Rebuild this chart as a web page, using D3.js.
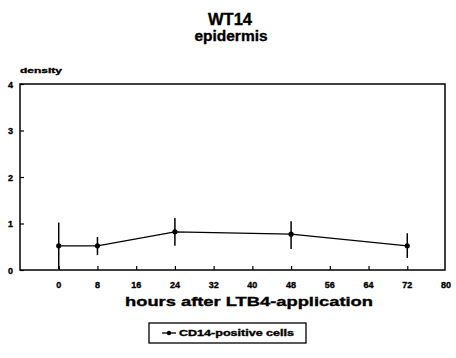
<!DOCTYPE html>
<html><head><meta charset="utf-8">
<script src="https://cdn.jsdelivr.net/npm/d3@7"></script>
<style>body{margin:0;background:#fff}svg{display:block}text{font-family:"Liberation Sans",Arial,sans-serif;font-weight:bold;fill:#000;stroke:#000;stroke-width:0.35px}</style>
</head><body>
<script>
const hours = [0, 8, 24, 48, 72];
const density = [0.52, 0.52, 0.82, 0.77, 0.52];
const errUpper = [1.02, 0.71, 1.12, 1.05, 0.79];
const errLower = [0.02, 0.32, 0.52, 0.45, 0.26];
const xTicks = [0, 8, 16, 24, 32, 40, 48, 56, 64, 72, 80];
const xTickLabels = ["0", "8", "16", "24", "32", "40", "48", "56", "64", "72", "80"];
const yTicks = [0, 1, 2, 3, 4];
const seriesName = "CD14-positive cells";

const W = 456, H = 358;
const svg = d3.select("body").append("svg").attr("width", W).attr("height", H);
const x = d3.scaleLinear().domain([-8, 80]).range([20, 446]);
const y = d3.scaleLinear().domain([0, 4]).range([270, 84]);

// titles
svg.append("text").attr("x", 230).attr("y", 25).attr("text-anchor", "middle").attr("font-size", 16.5).text("WT14");
svg.append("text").attr("x", 231).attr("y", 41).attr("text-anchor", "middle").attr("font-size", 15.5).text("epidermis");
svg.append("text").attr("x", 20).attr("y", 73).attr("font-size", 8).attr("textLength", 42).attr("lengthAdjust", "spacingAndGlyphs").text("density");

// frame
svg.append("rect").attr("x", x(-8)).attr("y", y(4)).attr("width", x(80) - x(-8) - 1).attr("height", y(0) - y(4))
  .attr("fill", "none").attr("stroke", "#000").attr("stroke-width", 1.5);

// y axis
const yAxis = d3.axisRight(y).tickValues(yTicks).tickSize(4).tickFormat("");
const gy = svg.append("g").attr("transform", `translate(${x(-8)},0)`).call(yAxis);
gy.select(".domain").remove();
gy.selectAll("line").attr("stroke", "#000").attr("stroke-width", 1.2);
svg.selectAll(".ylab").data(yTicks).join("text").attr("class", "ylab")
  .attr("x", 13).attr("y", d => y(d) + 3.5).attr("text-anchor", "end").attr("font-size", 9).text(d => d);

// x axis
const xAxis = d3.axisTop(x).tickValues(xTicks.slice(0, -1)).tickSize(4).tickFormat("");
const gx = svg.append("g").attr("transform", `translate(0,${y(0)})`).call(xAxis);
gx.select(".domain").remove();
gx.selectAll("line").attr("stroke", "#000").attr("stroke-width", 1.2);
svg.selectAll(".xlab").data(xTicks).join("text").attr("class", "xlab")
  .attr("x", d => x(d)).attr("y", 288).attr("text-anchor", "middle").attr("font-size", 9)
  .text((d, i) => xTickLabels[i]);
svg.append("text").attr("x", 249).attr("y", 306).attr("text-anchor", "middle").attr("font-size", 13)
  .attr("textLength", 248).attr("lengthAdjust", "spacingAndGlyphs")
  .text("hours after LTB4-application");

// error bars
svg.selectAll(".err").data(hours).join("line").attr("class", "err")
  .attr("x1", d => x(d)).attr("x2", d => x(d))
  .attr("y1", (d, i) => y(errUpper[i])).attr("y2", (d, i) => y(errLower[i]))
  .attr("stroke", "#000").attr("stroke-width", 1.5);

// line
const line = d3.line().x((d, i) => x(hours[i])).y(d => y(d));
svg.append("path").datum(density).attr("d", line).attr("fill", "none").attr("stroke", "#000").attr("stroke-width", 1.3);
svg.selectAll(".pt").data(density).join("circle").attr("class", "pt")
  .attr("cx", (d, i) => x(hours[i])).attr("cy", d => y(d)).attr("r", 2.6).attr("fill", "#000");

// legend
svg.append("rect").attr("x", 149).attr("y", 323).attr("width", 157).attr("height", 20)
  .attr("fill", "none").attr("stroke", "#000").attr("stroke-width", 1.3);
svg.append("line").attr("x1", 162).attr("x2", 176).attr("y1", 333).attr("y2", 333).attr("stroke", "#000").attr("stroke-width", 1.3);
svg.append("circle").attr("cx", 169).attr("cy", 333).attr("r", 2.2).attr("fill", "#000");
svg.append("text").attr("x", 179).attr("y", 336).attr("font-size", 8.5).attr("textLength", 115).attr("lengthAdjust", "spacingAndGlyphs").text(seriesName);
</script>
</body></html>
